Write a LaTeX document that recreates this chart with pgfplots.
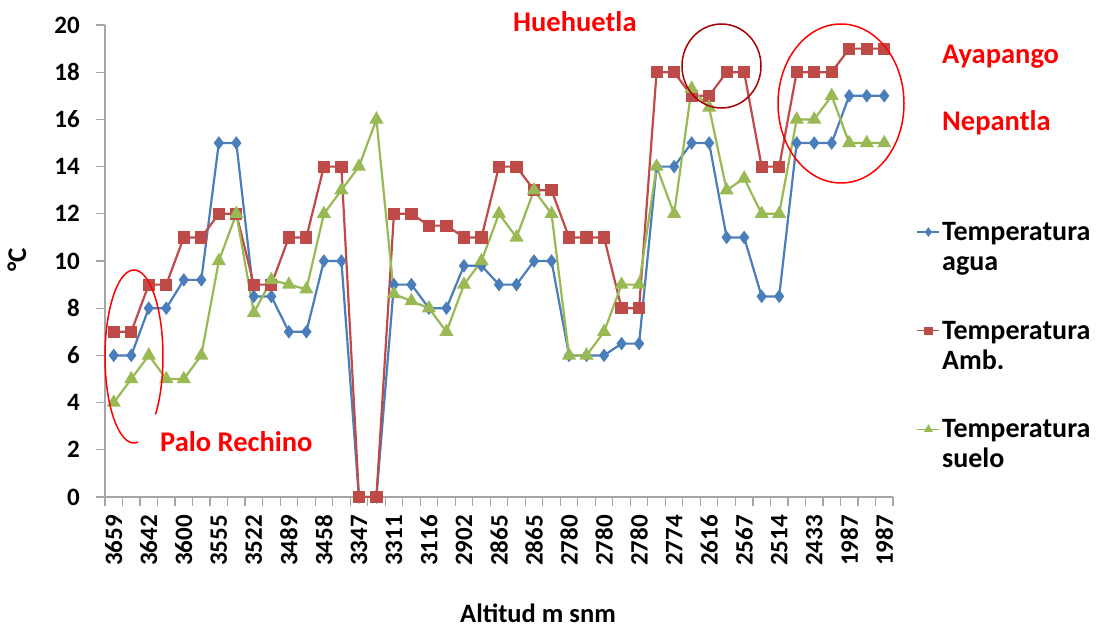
\documentclass[border=0pt]{standalone}
\usepackage{pgfplots}
\usepackage{pgfplotstable}
\pgfplotsset{compat=1.18}
\usepackage{fontspec}
\setmainfont{Carlito}
\definecolor{cblue}{HTML}{4A7EBB}
\definecolor{cred}{HTML}{BE4B48}
\definecolor{cgreen}{HTML}{98B954}
\definecolor{axgray}{HTML}{A6A6A6}
\definecolor{annred}{HTML}{FF0000}
\definecolor{darkred}{HTML}{A80000}

\pgfplotstableread{
x agua amb suelo
0 6 7 4
1 6 7 5
2 8 9 6
3 8 9 5
4 9.2 11 5
5 9.2 11 6
6 15 12 10
7 15 12 12
8 8.5 9 7.8
9 8.5 9 9.2
10 7 11 9
11 7 11 8.8
12 10 14 12
13 10 14 13
14 0 0 14
15 0 0 16
16 9 12 8.6
17 9 12 8.3
18 8 11.5 8
19 8 11.5 7
20 9.8 11 9
21 9.8 11 10
22 9 14 12
23 9 14 11
24 10 13 13
25 10 13 12
26 6 11 6
27 6 11 6
28 6 11 7
29 6.5 8 9
30 6.5 8 9
31 14 18 14
32 14 18 12
33 15 17 17.3
34 15 17 16.5
35 11 18 13
36 11 18 13.5
37 8.5 14 12
38 8.5 14 12
39 15 18 16
40 15 18 16
41 15 18 17
42 17 19 15
43 17 19 15
44 17 19 15
}\datatable

\newcommand{\legentry}[2]{\parbox[t]{160pt}{#1\\#2}}

\begin{document}
\begin{tikzpicture}[x=1pt,y=1pt]
\path[use as bounding box] (0,0) rectangle (1096,630);
\begin{axis}[
  at={(105pt,133pt)}, anchor=south west,
  scale only axis, width=788pt, height=472pt,
  xmin=-0.5, xmax=44.5, ymin=0, ymax=20,
  axis x line*=bottom, axis y line*=left,
  axis line style={-, axgray, line width=1.2pt},
  tick align=outside, major tick length=9pt,
  tick style={axgray, line width=1.2pt},
  ytick={0,2,...,20},
  xtick={-0.5,0.5,...,44.5}, xticklabels={},
  extra x ticks={0,2,...,44},
  extra x tick labels={3659,3642,3600,3555,3522,3489,3458,3347,3311,3116,2902,2865,2865,2780,2780,2780,2774,2616,2567,2514,2433,1987,1987},
  extra x tick style={major tick length=0pt},
  /pgf/number format/assume math mode=true,
  tick label style={font=\fontsize{25}{25}\selectfont\bfseries},
  x tick label style={rotate=90, anchor=east, inner sep=0pt, inner xsep=18pt},
  y tick label style={anchor=east, inner sep=0pt, inner xsep=16pt},
  xlabel={Altitud m snm},
  xlabel style={at={(axis description cs:0.5495,-0.265)}, anchor=base, font=\fontsize{26.5}{26.5}\selectfont\bfseries},
  ylabel={°C},
  ylabel style={at={(axis description cs:-0.1117,0.502)}, anchor=center, font=\fontsize{27}{27}\selectfont\bfseries},
  legend style={at={(1.026,0.591)}, anchor=north west, draw=none, fill=none,
    font=\fontsize{28}{30}\selectfont\bfseries, row sep=75pt, nodes={inner xsep=2pt}},
  legend cell align=left,
  legend image code/.code={\draw[#1, mark=none, line width=1.5pt] (0pt,0pt) -- (22pt,0pt);
    \draw[#1, only marks, mark size=3pt] plot coordinates {(11pt,0pt)};},
]
\addplot[cblue, line width=2.2pt, mark=diamond*, mark size=5pt, mark options={solid, fill=cblue}] table[x=x,y=agua]{\datatable};
\addlegendentry{\legentry{Temperatura}{agua}}
\addplot[cred, line width=2.2pt, mark=square*, mark size=5pt, mark options={solid, fill=cred}] table[x=x,y=amb]{\datatable};
\addlegendentry{\legentry{Temperatura}{Amb.}}
\addplot[cgreen, line width=2.2pt, mark=triangle*, mark size=6pt, mark options={solid, fill=cgreen}] table[x=x,y=suelo]{\datatable};
\addlegendentry{\legentry{Temperatura}{suelo}}
\end{axis}
\draw[annred, line width=1.5pt] (134,273.5) ++(278:29 and 86.5) arc[start angle=278, end angle=-42, x radius=29, y radius=86.5];
\draw[darkred, line width=1.5pt] (721.5,564) ellipse[x radius=39.5, y radius=42];
\draw[annred, line width=1.5pt] (841,526.5) ellipse[x radius=63, y radius=79.5];
\begin{scope}[every node/.style={text=annred, font=\fontsize{28.5}{28.5}\selectfont\bfseries, inner sep=0pt, anchor=base west}]
\node at (160,178) {Palo Rechino};
\node at (513,598) {Huehuetla};
\node at (942,566) {Ayapango};
\node at (942,499) {Nepantla};
\end{scope}
\end{tikzpicture}
\end{document}
